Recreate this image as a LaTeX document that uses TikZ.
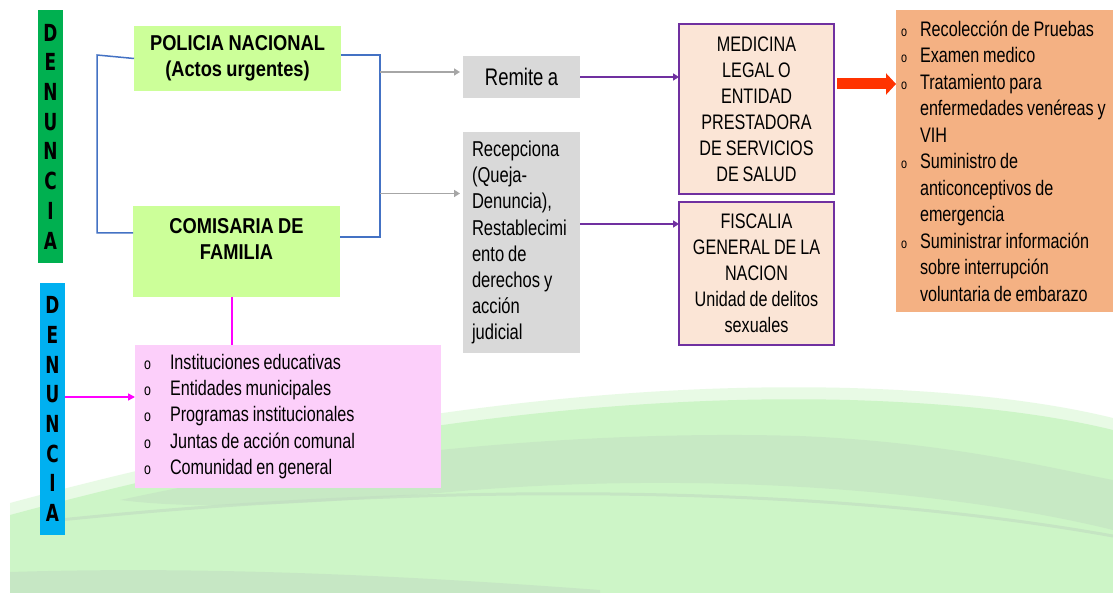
\documentclass[tikz,border=0pt]{standalone}
\usepackage{fontspec}
\setmainfont{Liberation Sans}[FakeStretch=0.77, WordSpace=0.85, BoldFeatures={FakeStretch=0.85}]
\newfontfamily\heavyfont{DejaVu Sans}[FakeStretch=0.72]
\usetikzlibrary{arrows.meta}
\definecolor{barGreen}{HTML}{00B050}
\definecolor{barBlue}{HTML}{00B0F0}
\definecolor{limeFill}{HTML}{CCFF99}
\definecolor{grayFill}{HTML}{D9D9D9}
\definecolor{peachFill}{HTML}{FBE5D6}
\definecolor{purpleLine}{HTML}{7030A0}
\definecolor{orangeFill}{HTML}{F4B183}
\definecolor{pinkFill}{HTML}{FCCFFA}
\definecolor{bracketBlue}{HTML}{4472C4}
\definecolor{arrowGray}{HTML}{A6A6A6}
\definecolor{magentaLine}{HTML}{FF00FF}
\definecolor{redArrow}{HTML}{FF3300}
\definecolor{hillGreen}{HTML}{CDF5C7}
\definecolor{hillShade}{HTML}{C2DFC2}
\newcommand{\obul}{\makebox[19pt][l]{\fontsize{14}{14}\selectfont o}}
\newcommand{\pbul}{\makebox[26pt][l]{\fontsize{16}{16}\selectfont o}}
\newcommand{\oitem}[1]{\makebox[207pt][l]{\obul #1}}
\newcommand{\ocont}[1]{\makebox[207pt][l]{\hspace*{19pt}#1}}
\newcommand{\pitem}[1]{\makebox[288pt][l]{\pbul #1}}
\newcommand{\rline}[1]{\makebox[99pt][l]{#1}}
\begin{document}
\begin{tikzpicture}[x=1pt,y=-1pt,
  every node/.style={inner sep=0pt, outer sep=0pt},
  bar/.style={anchor=north west, minimum width=25pt, align=center, font=\fontsize{23.5}{29.7}\selectfont\heavyfont\bfseries},
  limebox/.style={fill=limeFill, anchor=north west, minimum width=207pt, align=center, font=\fontsize{21.5}{26}\selectfont\bfseries},
  graybox/.style={fill=grayFill, anchor=north west, minimum width=117pt},
  peachbox/.style={fill=peachFill, draw=purpleLine, line width=1.8pt, anchor=north west, minimum width=155pt, align=center, font=\fontsize{21}{26}\selectfont},
  bracketline/.style={draw=bracketBlue, line width=1.5pt},
  grayarrow/.style={draw=arrowGray, line width=1.5pt, shorten >=3pt, -{Triangle[length=6pt,width=7pt]}},
  purplearrow/.style={draw=purpleLine, line width=1.8pt, -{Triangle[length=6pt,width=7pt]}},
  magline/.style={draw=magentaLine, line width=1.5pt}
]
\useasboundingbox (0,0) rectangle (1113,593);
\fill[white] (0,0) rectangle (1113,593);
% background hill
\fill[hillGreen, opacity=0.45] (10,503) .. controls (250,438) and (550,380) .. (850,388) .. controls (980,392) and (1060,405) .. (1113,418) -- (1113,593) -- (10,593) -- cycle;
\fill[hillGreen] (10,515) .. controls (250,450) and (550,392) .. (850,400) .. controls (980,404) and (1060,417) .. (1113,430) -- (1113,593) -- (10,593) -- cycle;
\fill[hillShade, opacity=0.5] (120,500) .. controls (350,450) and (600,430) .. (800,436) .. controls (950,442) and (1060,470) .. (1113,480) -- (1113,530) .. controls (950,490) and (700,470) .. (450,492) .. controls (300,505) and (200,510) .. (120,500) -- cycle;
\draw[hillShade, line width=3pt, opacity=0.7] (60,520) .. controls (400,485) and (800,480) .. (1113,536);
\fill[hillShade, opacity=0.6] (10,572) .. controls (200,566) and (400,575) .. (600,590) -- (600,593) -- (10,593) -- cycle;

% DENUNCIA bars
\node[bar, fill=barGreen, minimum height=253pt] (denA) at (38,10) {D\\E\\N\\U\\N\\C\\I\\A};
\node[bar, fill=barBlue, minimum height=252pt] (denB) at (40,283) {D\\E\\N\\U\\N\\C\\I\\A};

% entry boxes
\node[limebox, minimum height=65pt] (pol) at (134,26) {POLICIA NACIONAL\\(Actos urgentes)};
\node[limebox, minimum height=91pt] (com) at (133,206) {};
\node[align=center, font=\fontsize{21.5}{26}\selectfont\bfseries] (comtxt) at ([yshift=12.5pt]com.center) {COMISARIA DE\\FAMILIA};

% gray boxes
\node[graybox, minimum height=42pt, font=\fontsize{24}{26}\selectfont] (rem) at (463,56) {Remite a};
\node[graybox, minimum height=221pt, align=left, font=\fontsize{21.5}{26.1}\selectfont] (rec) at (463,132) {\rline{Recepciona}\\\rline{(Queja-}\\\rline{Denuncia),}\\\rline{Restablecimi}\\\rline{ento de}\\\rline{derechos y}\\\rline{acción}\\\rline{judicial}};

% peach boxes
\node[peachbox, minimum height=170pt] (med) at (679,24) {MEDICINA\\LEGAL O\\ENTIDAD\\PRESTADORA\\DE SERVICIOS\\DE SALUD};
\node[peachbox, minimum height=143pt] (fis) at (679,202) {FISCALIA\\GENERAL DE LA\\NACION\\Unidad de delitos\\sexuales};

% services box
\node[fill=orangeFill, anchor=north west, minimum width=217pt, minimum height=302pt, align=left, font=\fontsize{21}{26.5}\selectfont] (serv) at (896,10) {\oitem{Recolección de Pruebas}\\
\oitem{Examen medico}\\
\oitem{Tratamiento para}\\
\ocont{enfermedades venéreas y}\\
\ocont{VIH}\\
\oitem{Suministro de}\\
\ocont{anticonceptivos de}\\
\ocont{emergencia}\\
\oitem{Suministrar información}\\
\ocont{sobre interrupción}\\
\ocont{voluntaria de embarazo}};

% pink box
\node[fill=pinkFill, anchor=north west, minimum width=306pt, minimum height=143pt, align=left, font=\fontsize{21}{26.2}\selectfont] (pink) at (135,345) {\pitem{Instituciones educativas}\\
\pitem{Entidades municipales}\\
\pitem{Programas institucionales}\\
\pitem{Juntas de acción comunal}\\
\pitem{Comunidad en general}};

% brackets
\coordinate (lbt) at (97,55);
\coordinate (lbb) at (97,233);
\draw[bracketline] (pol.west) -- (lbt) -- (lbb) -- ([yshift=-27pt]com.north west);
\coordinate (rbt) at (380,55);
\coordinate (rbb) at (380,237);
\draw[bracketline] ([yshift=3.5pt]pol.east) -- (rbt) -- (rbb) -- ([yshift=14.5pt]com.east);

% gray arrows
\coordinate (g1) at (380,72);
\coordinate (g2) at (380,193.5);
\draw[grayarrow] (g1) -- (g1 -| rem.west);
\draw[grayarrow] (g2) -- (g2 -| rec.west);

% purple arrows
\draw[purplearrow] (rem.east) -- (rem.east -| med.west);
\draw[purplearrow] ([yshift=18.5pt]rec.east) -- ([yshift=18.5pt]rec.east -| fis.west);

% red arrow
\draw[draw=redArrow, line width=11pt, -{Triangle[length=10pt,width=21pt]}] ([yshift=25pt]med.east) ++(3pt,0) -- ([yshift=25pt]med.east -| serv.west);

% magenta connectors
\draw[magline] ([xshift=-4.5pt]com.south) -- ([xshift=-4.5pt]com.south |- pink.north);
\coordinate (m1) at (64,397);
\draw[magline, -{Triangle[length=7pt,width=7pt]}] (denB.east |- m1) -- (m1 -| pink.west);
\end{tikzpicture}
\end{document}
